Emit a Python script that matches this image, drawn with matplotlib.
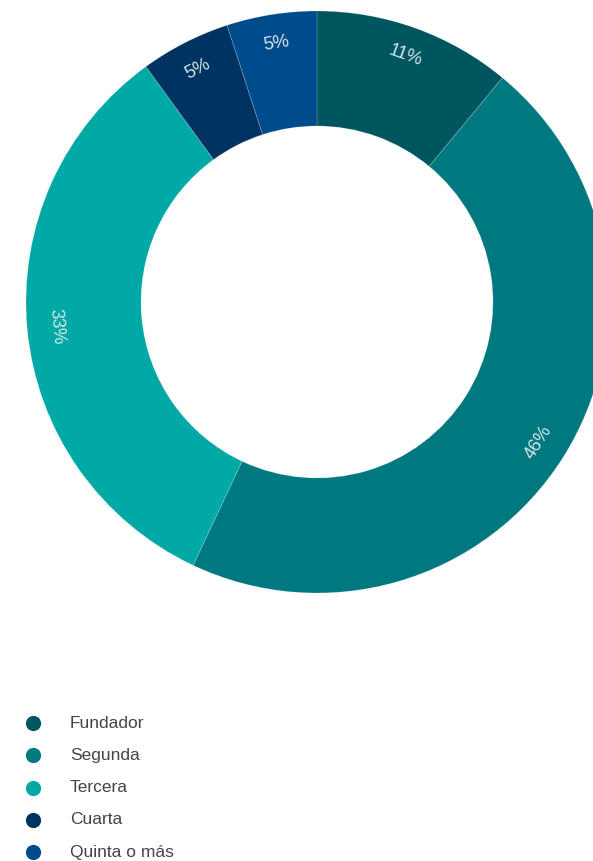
import numpy as np
import matplotlib
matplotlib.use("Agg")
import matplotlib.pyplot as plt

# Generación que dirige la empresa
labels = ["Fundador", "Segunda", "Tercera", "Cuarta", "Quinta o más"]
values = [11, 46, 33, 5, 5]
colors = ["#00565F", "#00787F", "#00A8A6", "#003361", "#004B8B"]

W, H, DPI = 593, 861, 100
fig = plt.figure(figsize=(W / DPI, H / DPI), dpi=DPI)
fig.patch.set_facecolor("white")

# donut centred at (317, 302) px from the top, outer radius 291 px
cx, cy, r = 317, 302, 291
ax = fig.add_axes([(cx - r) / W, (H - cy - r) / H, 2 * r / W, 2 * r / H])
ax.axis("off")

hole = 176 / 291
wedges, _ = ax.pie(values, colors=colors, startangle=90, counterclock=False, radius=1,
	wedgeprops=dict(width=1 - hole, edgecolor=(1, 1, 1, 0.25), linewidth=0.5))
ax.set_xlim(-1, 1); ax.set_ylim(-1, 1)
ax.set_aspect("equal")

# percentage labels written along the ring, near the outer edge
label_r = 0.90
for w, v in zip(wedges, values):
	mid = (w.theta1 + w.theta2) / 2
	a = np.deg2rad(mid)
	rot = mid - 90 if np.sin(a) > 0 else mid + 90
	ax.text(label_r * np.cos(a), label_r * np.sin(a), f"{v}%", rotation=rot,
		rotation_mode="anchor", ha="center", va="center", fontsize=13,
		color="#d6e6e6", family="Liberation Sans")

# legend, laid out in pixel coordinates
lax = fig.add_axes([0, 0, 1, 1], zorder=-1)
lax.set_xlim(0, W); lax.set_ylim(H, 0)
lax.axis("off")
for i, (lab, c) in enumerate(zip(labels, colors)):
	y = 723 + i * 32.3
	lax.scatter([33], [y], s=120, color=c, linewidths=0)
	lax.text(70, y, lab, fontsize=12.5, color="#444444", va="center", ha="left",
		family="Liberation Sans")

fig.savefig("out.png", dpi=DPI)
